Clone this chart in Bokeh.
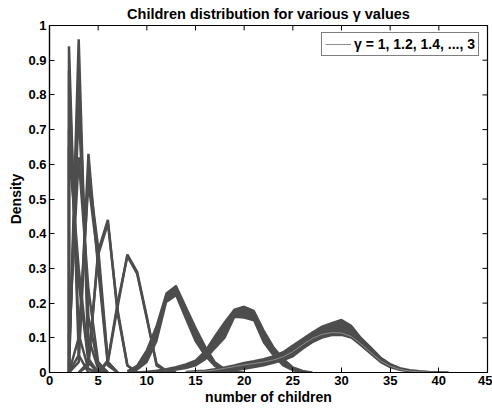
from math import pi
from bokeh.plotting import figure
from bokeh.models import Range1d, FixedTicker, CustomJSTickFormatter, Legend, LegendItem
from bokeh.embed import file_html
from bokeh.resources import INLINE

title_text = "Children distribution for various γ values"
x_label = "number of children"
y_label = "Density"
legend_label = "γ = 1, 1.2, 1.4, ..., 3"
x_ticks = [0, 5, 10, 15, 20, 25, 30, 35, 40, 45]
y_ticks = [0, 0.1, 0.2, 0.3, 0.4, 0.5, 0.6, 0.7, 0.8, 0.9, 1]

# small-mean groups (individual lines)
g2_x = [2, 2, 3, 4, 5]
g2_lines = [
    [0, 0.94, 0.05, 0.0, 0],
    [0, 0.87, 0.11, 0.01, 0],
    [0, 0.70, 0.26, 0.03, 0],
    [0, 0.65, 0.30, 0.04, 0],
]
g3_x = [2, 3, 4, 5, 6]
g3_lines = [
    [0.0, 0.96, 0.03, 0.0, 0],
    [0.02, 0.86, 0.10, 0.01, 0],
    [0.05, 0.76, 0.16, 0.02, 0],
    [0.10, 0.62, 0.24, 0.03, 0],
]
g4_x = [2, 3, 4, 5, 6, 7]
g4_lines = [
    [0, 0.05, 0.63, 0.30, 0.02, 0],
    [0, 0.10, 0.55, 0.32, 0.03, 0],
    [0, 0.03, 0.58, 0.36, 0.03, 0],
]
g6_x = [3, 4, 5, 6, 7, 8, 9]
g6_lines = [
    [0, 0.02, 0.35, 0.44, 0.17, 0.02, 0],
    [0, 0.03, 0.34, 0.43, 0.18, 0.02, 0],
]
g8_x = [5, 6, 7, 8, 9, 10, 11, 12, 13]
g8_lines = [
    [0, 0.03, 0.19, 0.34, 0.29, 0.16, 0.02, 0.005, 0],
    [0, 0.035, 0.20, 0.335, 0.285, 0.155, 0.025, 0.005, 0],
]

# wide groups (bands between a low and a high curve)
g13_x = [8, 9, 10, 11, 12, 13, 14, 15, 16, 17, 18, 19, 20]
g13_high = [0.005, 0.02, 0.065, 0.135, 0.228, 0.25, 0.19, 0.13, 0.075, 0.03, 0.01, 0.002, 0]
g13_low = [0.0, 0.008, 0.03, 0.09, 0.203, 0.222, 0.155, 0.09, 0.048, 0.018, 0.005, 0.0, 0]

g20_x = [8, 9, 10, 11, 12, 13, 14, 15, 16, 17, 18, 19, 20, 21, 22, 23, 24, 25, 26, 27]
g20_high = [0, 0.001, 0.003, 0.006, 0.01, 0.016, 0.024, 0.035, 0.062, 0.105, 0.145, 0.182, 0.19, 0.178,
            0.122, 0.074, 0.04, 0.015, 0.005, 0]
g20_low = [0, 0, 0.001, 0.003, 0.005, 0.008, 0.012, 0.02, 0.038, 0.07, 0.10, 0.16, 0.158, 0.15,
           0.087, 0.049, 0.02, 0.006, 0.001, 0]

g30_x = [14, 15, 16, 17, 18, 19, 20, 21, 22, 23, 24, 25, 26, 27, 28, 29, 30, 31, 32, 33, 34, 35,
         36, 37, 38, 39, 40, 41]
g30_high = [0.002, 0.004, 0.006, 0.01, 0.015, 0.021, 0.028, 0.033, 0.039, 0.047, 0.059, 0.078, 0.097,
            0.116, 0.133, 0.143, 0.152, 0.135, 0.10, 0.073, 0.044, 0.025, 0.013, 0.007, 0.004, 0.002,
            0.001, 0]
g30_low = [0, 0, 0, 0.001, 0.003, 0.006, 0.01, 0.015, 0.02, 0.027, 0.035, 0.046, 0.068, 0.087, 0.10,
           0.107, 0.108, 0.10, 0.078, 0.054, 0.03, 0.015, 0.007, 0.003, 0.001, 0, 0, 0]
g30_thin = [0.001, 0.002, 0.004, 0.007, 0.012, 0.017, 0.022, 0.026, 0.03, 0.036, 0.045, 0.06, 0.08,
            0.098, 0.11, 0.115, 0.114, 0.104, 0.082, 0.058, 0.034, 0.018, 0.009, 0.004, 0.002, 0.001, 0, 0]

DARK = "#4d4d4d"
LIGHT = "#8c8c8c"
FONT = "Liberation Sans"

p = figure(width=492, height=409, x_range=Range1d(0, 45), y_range=Range1d(0, 1),
           output_backend="svg", toolbar_location=None,
           min_border_left=49, min_border_right=5, min_border_top=25, min_border_bottom=37)
p.background_fill_color = "white"
p.border_fill_color = "white"
p.outline_line_color = "black"
p.outline_line_width = 1.2
p.xgrid.grid_line_color = None
p.ygrid.grid_line_color = None

p.title.text = title_text
p.title.align = "center"
p.title.text_font = FONT
p.title.text_font_size = "14.5px"
p.title.text_font_style = "bold"
p.title.text_color = "black"
p.title.standoff = 7

fmt = CustomJSTickFormatter(code="return (Math.round(tick*10)/10).toString();")

p.xaxis.ticker = FixedTicker(ticks=x_ticks, minor_ticks=[])
p.yaxis.ticker = FixedTicker(ticks=y_ticks, minor_ticks=[])
p.yaxis.formatter = fmt
p.xaxis.axis_label = x_label
p.yaxis.axis_label = y_label
for ax in p.xaxis + p.yaxis:
    ax.axis_line_color = "black"
    ax.axis_line_width = 1.2
    ax.major_tick_in = 5
    ax.major_tick_out = 0
    ax.minor_tick_line_color = None
    ax.major_tick_line_color = "black"
    ax.major_label_text_font = FONT
    ax.major_label_text_font_style = "bold"
    ax.major_label_text_color = "black"
    ax.major_label_text_font_size = "13px"
    ax.major_label_standoff = 3
    ax.axis_label_text_font = FONT
    ax.axis_label_text_font_style = "bold"
    ax.axis_label_text_font_size = "14px"
    ax.axis_label_text_color = "black"
    ax.axis_label_standoff = 1

# mirrored inward ticks on top and right edges
p.ray(x=x_ticks, y=1, length=5, length_units="screen", angle=-pi / 2,
      line_color="black", line_width=1)
p.ray(x=45, y=y_ticks, length=5, length_units="screen", angle=pi,
      line_color="black", line_width=1)

# bands
for xs, lo, hi in [(g30_x, g30_low, g30_high), (g20_x, g20_low, g20_high), (g13_x, g13_low, g13_high)]:
    p.varea(x=xs, y1=lo, y2=hi, fill_color=DARK)
    p.line(xs, lo, line_color=DARK, line_width=2)
    p.line(xs, hi, line_color=DARK, line_width=2)
thin_r = p.line(g30_x, g30_thin, line_color=LIGHT, line_width=1)

for xs, lines in [(g8_x, g8_lines), (g6_x, g6_lines), (g4_x, g4_lines), (g3_x, g3_lines), (g2_x, g2_lines)]:
    for ys in lines:
        p.line(xs, ys, line_color=DARK, line_width=2.5)

legend = Legend(items=[LegendItem(label=legend_label, renderers=[thin_r])],
                location=(272, 316))
legend.label_text_font = FONT
legend.label_text_font_style = "bold"
legend.label_text_font_size = "14px"
legend.label_text_color = "black"
legend.border_line_color = "black"
legend.border_line_width = 1.5
legend.background_fill_color = "white"
legend.glyph_width = 26
legend.glyph_height = 14
legend.padding = 3
legend.label_standoff = 3
legend.spacing = 0
legend.margin = 0
p.add_layout(legend, "center")

open("out.html", "w").write(file_html(p, INLINE))
